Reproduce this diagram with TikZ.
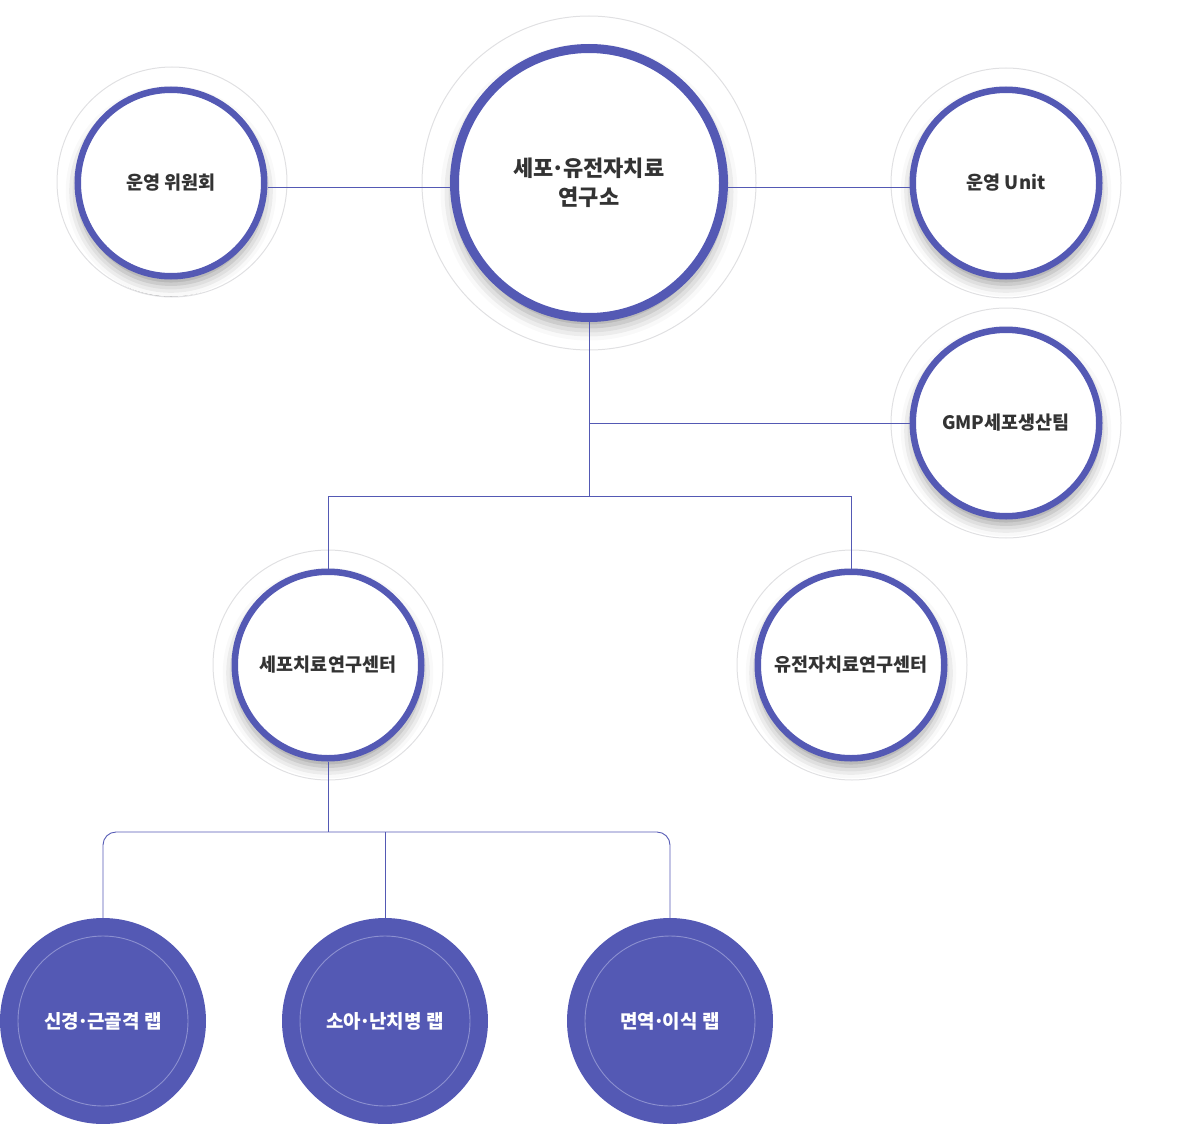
\documentclass[tikz,border=0pt]{standalone}
\usepackage{fontspec}
\setmainfont{Noto Sans CJK KR}
\usetikzlibrary{shadows.blur}
\definecolor{mainblue}{RGB}{84,89,180}
\definecolor{ringgray}{RGB}{224,224,226}
\definecolor{txtgray}{RGB}{51,51,51}
\definecolor{innerring}{RGB}{140,144,208}
\newcommand\mdot{\kern-0.1em·\kern-0.1em}
\tikzset{
  conn/.style={draw=mainblue, line width=0.9pt},
  halo/.style={circle, draw=ringgray, line width=1pt, minimum size=#1, inner sep=0pt},
  bigunit/.style={circle, draw=mainblue, fill=white, line width=9pt, minimum size=269pt, inner sep=0pt,
    blur shadow={shadow xshift=0pt, shadow yshift=-9pt, shadow blur radius=14pt, shadow opacity=40},
    font=\fontsize{22}{29}\selectfont\bfseries, text=txtgray, align=center},
  unit/.style={circle, draw=mainblue, fill=white, line width=6.5pt, minimum size=186.5pt, inner sep=0pt,
    blur shadow={shadow xshift=0pt, shadow yshift=-8pt, shadow blur radius=12pt, shadow opacity=40},
    font=\fontsize{18.5}{22}\selectfont\bfseries, text=txtgray, align=center},
  lab/.style={circle, fill=mainblue, minimum size=206pt, inner sep=0pt,
    font=\fontsize{19}{22}\selectfont\bfseries, text=white, align=center},
  labring/.style={circle, draw=innerring, line width=0.9pt, minimum size=170pt, inner sep=0pt}
}
\begin{document}
\begin{tikzpicture}[x=1pt,y=-1pt]
\useasboundingbox (0,0) rectangle (1178,1124);
% halos
\node[halo=334pt] (Ch) at (589,183) {};
\node[halo=230pt] (Lh) at (172,182) {};
\node[halo=230pt] (Uh) at (1006,183) {};
\node[halo=230pt] (Gh) at (1006,423) {};
\node[halo=230pt] (Ah) at (328,665) {};
\node[halo=230pt] (Bh) at (852,665) {};
% junction coordinates
\coordinate (j1) at (589,496);
\coordinate (j2) at (589,423);
\coordinate (k) at (328,832);
% main circles
\node[bigunit] (C) at (589,183) {세포\mdot 유전자치료\\연구소};
\node[unit] (L) at (171,183) {운영 위원회};
\node[unit] (U) at (1006,183) {운영 Unit};
\node[unit] (G) at (1006,423) {GMP세포생산팀};
\node[unit] (A) at (328,665) {세포치료연구센터};
\node[unit] (B) at (851,665) {유전자치료연구센터};
% labs
\node[lab] (P1) at (103,1021) {신경\mdot 근골격 랩};
\node[lab] (P2) at (385,1021) {소아\mdot 난치병 랩};
\node[lab] (P3) at (670,1021) {면역\mdot 이식 랩};
\node[labring] (P1r) at (P1) {};
\node[labring] (P2r) at (P2) {};
\node[labring] (P3r) at (P3) {};
% connectors
\draw[conn] ([yshift=-4pt]L.east) -- ([yshift=-4pt]C.west);
\draw[conn] ([yshift=-4pt]C.east) -- ([yshift=-4pt]U.west);
\draw[conn] (C.south) -- (j1);
\draw[conn] (j2) -- (G.west);
\draw[conn] (A.north) -- (A.north |- j1) -- (B.north |- j1) -- (B.north);
\draw[conn] (A.south) -- (k);
\draw[conn, rounded corners=13pt] (P1.north) -- (P1.north |- k) -- (P3.north |- k) -- (P3.north);
\draw[conn] (P2.north) -- (P2.north |- k);
\end{tikzpicture}
\end{document}
